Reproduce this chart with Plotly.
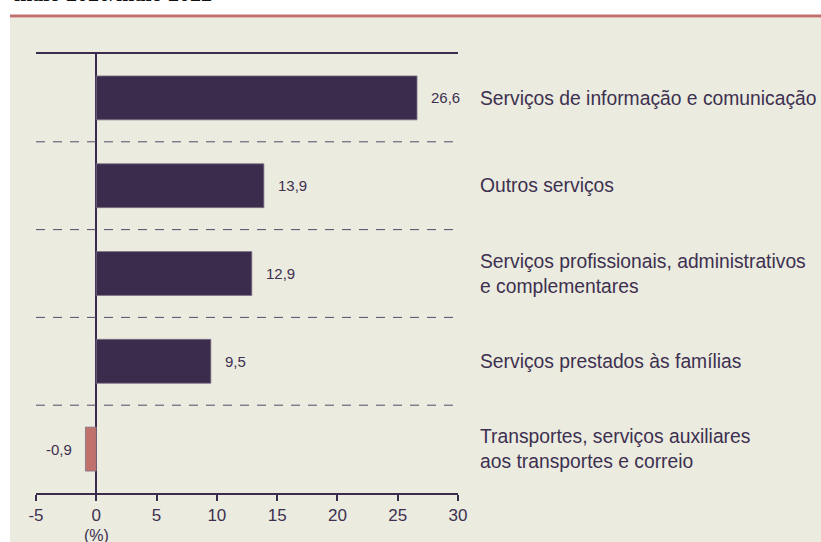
import plotly.graph_objects as go

categories = [
    "Serviços de informação e comunicação",
    "Outros serviços",
    "Serviços profissionais, administrativos<br>e complementares",
    "Serviços prestados às famílias",
    "Transportes, serviços auxiliares<br>aos transportes e correio",
]
values = [26.6, 13.9, 12.9, 9.5, -0.9]
value_labels = ["26,6", "13,9", "12,9", "9,5", "-0,9"]
x_ticks = [-5, 0, 5, 10, 15, 20, 25, 30]
title_text = "maio 2020/maio 2022"
unit_text = "(%)"

DARK = "#3b2b4c"
NEG = "#c0716b"
TEXT = "#3d3050"
BEIGE = "#ebebdf"
PLOTBG = "#e4e4e8"
FONT = "Liberation Sans, Arial, sans-serif"

W, H = 821, 542
ML, MR, MT, MB = 36, 363, 54, 49
PW, PH = W - ML - MR, H - MT - MB

def px_x(p):
    return (p - ML) / PW

def px_y(p):
    return (H - MB - p) / PH

ypos = list(range(len(categories)))
colors = [DARK if v >= 0 else NEG for v in values]

fig = go.Figure()
fig.add_trace(go.Bar(
    x=values, y=ypos, orientation="h",
    marker=dict(color=colors, line=dict(color="#7d7488", width=0.8)),
    width=0.5, showlegend=False, hoverinfo="skip",
))

shapes = [
    dict(type="rect", xref="paper", yref="paper", layer="below",
         x0=px_x(10), x1=px_x(W + 5), y0=px_y(18), y1=px_y(H + 5),
         fillcolor=BEIGE, line=dict(width=0)),
    dict(type="line", xref="paper", yref="paper",
         x0=px_x(10), x1=px_x(W + 5), y0=px_y(16), y1=px_y(16),
         line=dict(color=NEG, width=3)),
]
for i in range(len(categories) - 1):
    shapes.append(dict(type="line", xref="paper", yref="y", layer="above",
                       x0=0, x1=1, y0=i + 0.5, y1=i + 0.5,
                       line=dict(color="#564b68", width=1, dash="9px,8px")))

annotations = []
for v, lab, y in zip(values, value_labels, ypos):
    annotations.append(dict(
        x=v, y=y, xref="x", yref="y", text=lab, showarrow=False,
        xanchor="left" if v >= 0 else "right",
        xshift=12 if v >= 0 else -11,
        font=dict(family=FONT, size=15, color=TEXT),
    ))
annotations.append(dict(
    x=0, y=px_y(525), xref="x", yref="paper", text=unit_text, showarrow=False,
    xanchor="center", yanchor="top", font=dict(family=FONT, size=16, color=TEXT),
))
annotations.append(dict(
    x=px_x(12), y=px_y(-21), xref="paper", yref="paper", text="<b>" + title_text + "</b>",
    showarrow=False, xanchor="left", yanchor="top",
    font=dict(family="Liberation Serif, serif", size=22, color="#111111"),
))

fig.update_layout(
    width=W, height=H,
    margin=dict(l=ML, r=MR, t=MT, b=MB, autoexpand=False),
    paper_bgcolor="white",
    plot_bgcolor=PLOTBG,
    shapes=shapes,
    annotations=annotations,
    xaxis=dict(
        range=[-5, 30], tickvals=x_ticks, ticktext=[str(t) for t in x_ticks],
        showgrid=False, zeroline=True, zerolinecolor=DARK, zerolinewidth=1.5,
        showline=True, linecolor=DARK, linewidth=1.5, mirror=True,
        ticks="outside", ticklen=6, tickcolor=DARK, tickwidth=1.5,
        tickfont=dict(family=FONT, size=17, color=TEXT),
        automargin=False, fixedrange=True,
    ),
    yaxis=dict(
        range=[len(categories) - 0.5, -0.5],
        tickvals=ypos, ticktext=categories, side="right",
        showgrid=False, zeroline=False, showline=False, ticks="",
        ticklabelstandoff=21,
        tickfont=dict(family=FONT, size=19.3, color=TEXT),
        automargin=False, fixedrange=True,
    ),
)

fig.write_html(
    "out.html",
    config={"displayModeBar": False},
    post_script="document.body.style.margin='0';document.body.style.overflow='hidden';",
)
